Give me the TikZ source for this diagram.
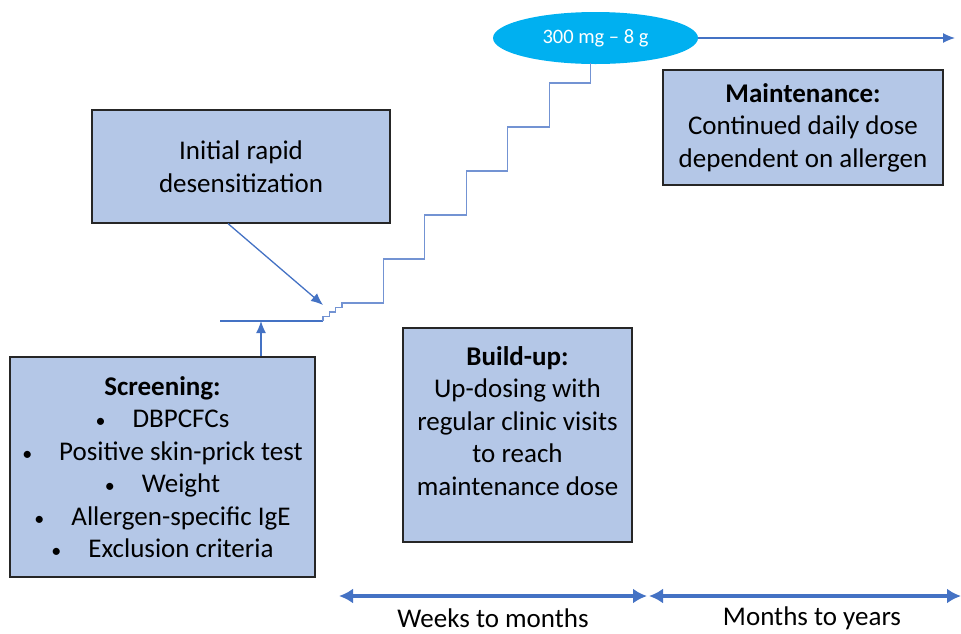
\documentclass[tikz,border=0pt]{standalone}
\usepackage{fontspec}
\setmainfont{Carlito}
\usetikzlibrary{arrows.meta,positioning,shapes.geometric}
\definecolor{boxfill}{HTML}{B4C7E7}
\definecolor{dosefill}{HTML}{00B0F0}
\definecolor{arrowblue}{HTML}{4472C4}
\definecolor{stairblue}{HTML}{7393D3}
\newcommand{\listdot}{{\fontsize{20}{20}\selectfont\textbullet}\hspace{1em}}

\begin{document}
\begin{tikzpicture}[x=1pt, y=-1pt, font=\fontsize{27}{32.5}\selectfont]
\tikzset{
    phasebox/.style={rectangle, draw=black!85, fill=boxfill, line width=1.2pt, align=center, inner sep=0pt},
    doseoval/.style={ellipse, fill=dosefill, text=white, inner sep=0pt, minimum width=205pt, minimum height=52pt, font=\fontsize{20.5}{24}\selectfont},
    thinarrow/.style={-{Latex[length=12pt,width=10pt]}, draw=arrowblue, line width=1.3pt},
    timearrow/.style={{Latex[length=14pt,width=15pt]}-{Latex[length=14pt,width=15pt]}, draw=arrowblue, line width=4pt},
    stairline/.style={draw=stairblue, line width=1.2pt}
}
\useasboundingbox (0,0) rectangle (961,633);

\node[phasebox, minimum width=298pt, minimum height=113pt] (rapid) at (241,166.5) {Initial rapid\\desensitization};
\node[phasebox, minimum width=280pt, minimum height=115pt] (maint) at (803,127.5) {\textbf{Maintenance:}\\Continued daily dose\\dependent on allergen};
\node[phasebox, minimum width=229pt, minimum height=214pt] (buildup) at (517.5,435) {\textbf{Build-up:}\\Up-dosing with\\regular clinic visits\\to reach\\maintenance dose\\[-4pt]\mbox{}};
\node[phasebox, minimum width=305pt, minimum height=220pt] (screen) at (162.5,467) {\textbf{Screening:}\\
    \listdot DBPCFCs\\
    \listdot Positive skin-prick test\\
    \listdot Weight\\
    \listdot Allergen-specific IgE\\
    \listdot Exclusion criteria};
\node[doseoval] (dose) at (595.5,38) {300 mg -- 8 g};

% dose line, then the steps up to it
\coordinate (base) at (220,321);
\coordinate (stepstart) at (323,321);
\draw[draw=arrowblue, line width=1.2pt] (base) -- (stepstart);
\draw[stairline] (stepstart) -- ++(0,-4.5) -- ++(6.3,0) -- ++(0,-4.5) -- ++(6.3,0) -- ++(0,-4.5)
    -- ++(6.3,0) -- ++(0,-4.5) -- ++(41.3,0) -- ++(0,-44) -- ++(41.5,0) -- ++(0,-44)
    -- ++(41.5,0) -- ++(0,-44) -- ++(41.5,0) -- ++(0,-44) -- ++(41.5,0) -- ++(0,-44)
    -- ++(41.5,0) -- ++(0,-20.5);

\coordinate (rapidtip) at (323,305);
\draw[thinarrow] ([xshift=-13pt]rapid.south) -- (rapidtip);

\coordinate (screentop) at ([xshift=98.5pt]screen.north);
\draw[thinarrow] (screentop) -- (screentop |- base);

\coordinate (doseend) at (955,38);
\draw[thinarrow] (dose.east) -- (doseend);

% time spans
\coordinate (weeksL) at (339,596);
\coordinate (weeksR) at (647,596);
\coordinate (monthsL) at (649,596);
\coordinate (monthsR) at (961,596);
\draw[timearrow] (weeksL) -- (weeksR);
\draw[timearrow] (monthsL) -- (monthsR);
\node (weekslabel) at (493,618.5) {Weeks to months};
\node (monthslabel) at (812,618.5) {Months to years};

\end{tikzpicture}
\end{document}
